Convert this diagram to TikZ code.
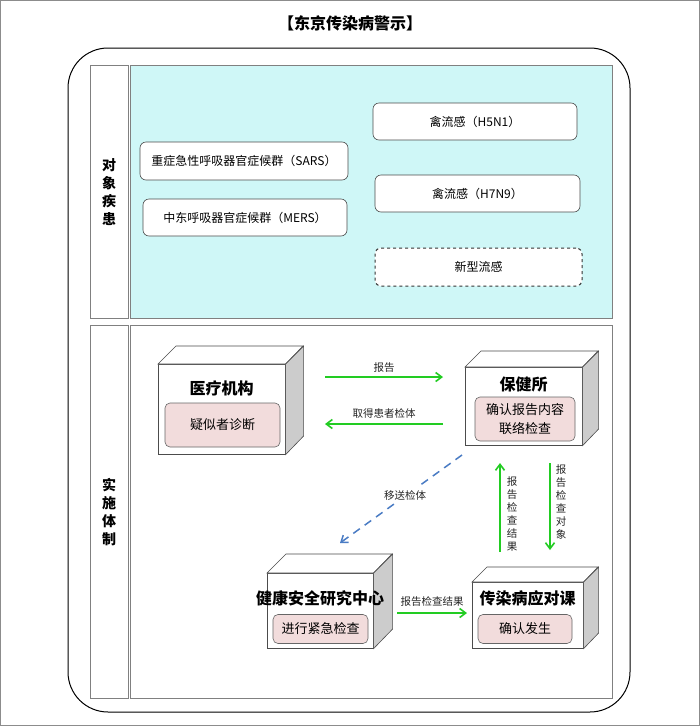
\documentclass[tikz,border=0pt]{standalone}
\usepackage{fontspec}
\setmainfont{Noto Sans CJK SC}
\usetikzlibrary{arrows.meta}
\definecolor{grn}{HTML}{22CC22}
\definecolor{blu}{HTML}{4A7CC4}
\definecolor{pnk}{HTML}{F2DCDC}
\definecolor{cyn}{HTML}{CFF7F7}
\begin{document}
\begin{tikzpicture}[x=1pt,y=-1pt,
  pill/.style={draw=black!70,fill=white,rounded corners=6pt,line width=0.6pt,font=\fontsize{12}{14}\selectfont},
  front/.style={draw=black!70,fill=white,line width=0.6pt,inner sep=0pt},
  inner/.style={draw=black!60,fill=pnk,rounded corners=5pt,line width=0.6pt,align=center,font=\fontsize{13}{19}\selectfont},
  ttl/.style={font=\bfseries\fontsize{16}{18}\selectfont,inner sep=0pt},
  garr/.style={grn,line width=1.6pt,-{Straight Barb[length=6pt,width=9pt]}},
  lbl/.style={text=black!85,font=\fontsize{10.5}{12}\selectfont,inner sep=1pt},
  vlbl/.style={text=black!85,font=\fontsize{10.5}{13}\selectfont,align=center,inner sep=1pt,text width=11pt}]
\useasboundingbox (0,0) rectangle (700,726);
\draw[black!45,line width=1pt] (0.5,0.5) rectangle (699.5,725.5);
\node[font=\bfseries\fontsize{16}{18}\selectfont] (title) at (350,23) {【东京传染病警示】};
\draw[line width=1pt,rounded corners=40pt] (68,48) rectangle (630,712);
% panels
\node[draw=black!50,fill=cyn,minimum width=482pt,minimum height=253pt,anchor=north west,inner sep=0pt] (p1) at (130,65) {};
\node[draw=black!50,fill=white,minimum width=482pt,minimum height=373pt,anchor=north west,inner sep=0pt] (p2) at (130,325) {};
\node[draw=black!50,minimum width=38pt,minimum height=253pt,anchor=north west,inner sep=0pt] (l1) at (90,65) {};
\node[draw=black!50,minimum width=38pt,minimum height=373pt,anchor=north west,inner sep=0pt] (l2) at (90,325) {};
\node[font=\bfseries\fontsize{14}{18}\selectfont,align=center] (t1) at (l1) {对\\象\\疾\\患};
\node[font=\bfseries\fontsize{14}{18}\selectfont,align=center] (t2) at (l2) {实\\施\\体\\制};
% pills
\node[pill,minimum width=208pt,minimum height=38pt] (sars) at (244,161) {重症急性呼吸器官症候群（SARS）};
\node[pill,minimum width=204pt,minimum height=37pt] (mers) at (245,217.5) {中东呼吸器官症候群（MERS）};
\node[pill,minimum width=204pt,minimum height=37pt] (h5) at (475,121.5) {禽流感（H5N1）};
\node[pill,minimum width=205pt,minimum height=37pt] (h7) at (477.5,193.5) {禽流感（H7N9）};
\node[pill,dashed,line width=1pt,draw=black!80,minimum width=207pt,minimum height=38pt] (nf) at (478.5,267) {新型流感};
% cubes
\newcommand\mycube[6]{% name, x1,y1,x2,y2, depth
  \node[front,minimum width=#4-#2,minimum height=#5-#3,anchor=north west] (#1) at (#2,#3) {};
  \fill[white,draw=black!70,line width=0.6pt] (#1.north west) -- ++(#6,-#6) -- ++(#4-#2,0) -- (#1.north east) -- cycle;
  \fill[black!20,draw=black!70,line width=0.6pt] (#1.north east) -- ++(#6,-#6) -- ++(0,#5-#3) -- (#1.south east) -- cycle;}
\mycube{yl}{158}{364}{285}{454}{18}
\mycube{bj}{465}{367}{582}{445}{16}
\mycube{jk}{267}{573}{373}{648}{19}
\mycube{cr}{472}{582}{583}{648}{15}
\node[ttl] (ylt) at (221.5,388) {医疗机构};
\node[inner,minimum width=115pt,minimum height=44pt] (yli) at (222.5,425) {疑似者诊断};
\node[ttl] (bjt) at (523.5,384) {保健所};
\node[inner,minimum width=100pt,minimum height=44pt,inner sep=0pt] (bji) at (525,419) {确认报告内容\\联络检查};
\node[ttl] (jkt) at (320,598) {健康安全研究中心};
\node[inner,minimum width=95pt,minimum height=29pt,inner sep=0pt] (jki) at (320.5,629) {进行紧急检查};
\node[ttl] (crt) at (527.5,598) {传染病应对课};
\node[inner,minimum width=94pt,minimum height=29pt,inner sep=0pt] (cri) at (525,629) {确认发生};
% connectors
\draw[garr] (325,377) coordinate(s1) -- (443,377) coordinate(e1) node[lbl,midway,above=3pt] (l1a) {报告};
\draw[garr] (443,424) coordinate(s2) -- (325,424) coordinate(e2) node[lbl,midway,above=4pt] (l2a) {取得患者检体};
\draw[blu,line width=1.5pt,dash pattern=on 8pt off 6pt,-{Straight Barb[length=6pt,width=9pt]}] (462,455) coordinate(s3) -- (340,543) coordinate(e3);
\node[lbl,fill=white,inner sep=3pt] (l3) at (405,495) {移送检体};
\draw[garr] (500,552) coordinate(s4) -- (500,463) coordinate(e4);
\node[vlbl] (l4) at (512,514) {报\\告\\检\\查\\结\\果};
\draw[garr] (550,463) coordinate(s5) -- (550,550) coordinate(e5);
\node[vlbl] (l5) at (561,502) {报\\告\\检\\查\\对\\象};
\draw[garr] (397,613) coordinate(s6) -- (467,613) coordinate(e6) node[lbl,midway,above=5pt] (l6) {报告检查结果};
\end{tikzpicture}
\end{document}
